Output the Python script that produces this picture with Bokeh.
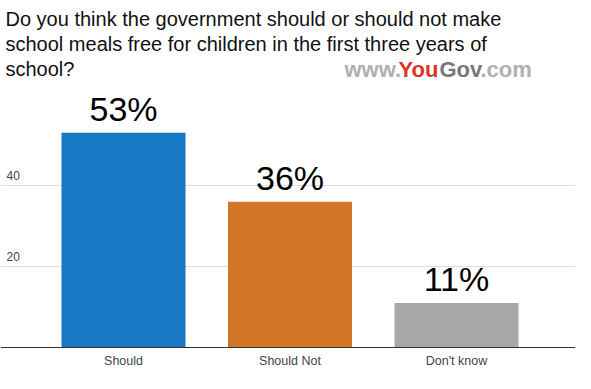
from bokeh.plotting import figure
from bokeh.models import Range1d, Grid, FixedTicker, Span, ColumnDataSource
from bokeh.core.properties import value
from bokeh.embed import file_html
from bokeh.resources import INLINE

# ---- data ----
categories = ["Should", "Should Not", "Don't know"]
shares = [53, 36, 11]
bar_colors = ["#1878c4", "#d27524", "#a6a8a9"]
tick_values = [20, 40]
title_lines = [
    "Do you think the government should or should not make",
    "school meals free for children in the first three years of",
    "school?",
]
logo_parts = ["www.", "You", "Gov", ".com"]
logo_colors = ["#b0b0b0", "#dc3328", "#777777", "#b0b0b0"]

FONT = "Liberation Sans"
px_per_unit_x = 166.5
px_per_unit_y = 4.05
W, H = 583, 381
frame_w = 575
base_px = 347          # canvas y of value 0
first_center_px = 123  # canvas x of first category

x0 = -first_center_px / px_per_unit_x
x1 = (frame_w - first_center_px) / px_per_unit_x
y0 = -(H - base_px) / px_per_unit_y
y1 = base_px / px_per_unit_y

p = figure(width=W, height=H, output_backend="svg", toolbar_location=None,
           x_range=Range1d(x0, x1), y_range=Range1d(y0, y1),
           x_axis_location=None, y_axis_location=None,
           min_border_left=0, min_border_right=W - frame_w, min_border_top=0,
           min_border_bottom=0, outline_line_color=None,
           background_fill_color="white", border_fill_color="white")

# drop default grids, add our own
p.center = [r for r in p.center if not isinstance(r, Grid)]
p.add_layout(Grid(dimension=1, ticker=FixedTicker(ticks=tick_values),
                  grid_line_color="#dcdcdc", grid_line_width=1))

xs = list(range(len(categories)))
src = ColumnDataSource(dict(x=xs, top=shares, color=bar_colors,
                            cat=categories, lab=[f"{v}%" for v in shares]))
p.vbar(x="x", top="top", bottom=0, width=124 / px_per_unit_x, color="color",
       line_color=None, source=src)

p.add_layout(Span(location=0, dimension="width", line_color="#333333", line_width=1))

# value labels
p.text(x="x", y="top", text="lab", source=src, text_align="center",
       text_baseline="alphabetic", y_offset=-24, text_font=value(FONT),
       text_font_size="34px", text_color="#000000")

# category labels
p.text(x="x", y=0, text="cat", source=src, text_align="center",
       text_baseline="alphabetic", y_offset=13, text_font=value(FONT),
       text_font_size="12.5px", text_color="#444444")

# y tick labels (above gridlines, inside plot)
p.text(x=[x0] * len(tick_values), y=tick_values, text=[str(t) for t in tick_values],
       x_offset=6, y_offset=-10, text_align="left", text_baseline="alphabetic",
       text_font=value(FONT), text_font_size="12px", text_color="#444444")

# title
p.text(x=[x0] * len(title_lines), y=[y1] * len(title_lines), text=title_lines,
       x_offset=5, y_offset=[18, 43, 68], text_align="left",
       text_baseline="alphabetic", text_font=value(FONT), text_font_size="20px",
       text_color="#111111")

# logo
p.text(x=[x0] * len(logo_parts), y=[y1] * len(logo_parts), text=logo_parts,
       x_offset=[344, 398, 439, 480], y_offset=69, text_align="left",
       text_baseline="alphabetic", text_font=value(FONT), text_font_size="22px",
       text_font_style="bold", text_color=logo_colors)

open("out.html", "w").write(file_html(p, INLINE))
